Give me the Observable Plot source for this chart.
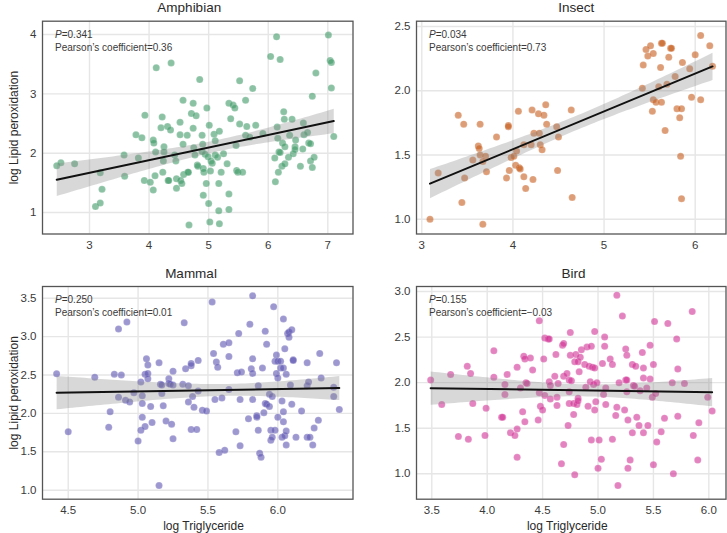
<!DOCTYPE html>
<html>
<head>
<meta charset="utf-8">
<script src="https://cdn.jsdelivr.net/npm/d3@7"></script>
<script src="https://cdn.jsdelivr.net/npm/@observablehq/plot@0.6"></script>
<style>
  body { margin: 0; background: #fff; }
  #chart { position: relative; width: 727px; height: 533px; font-family: "Liberation Sans", Arial, sans-serif; }
  #chart svg { position: absolute; overflow: visible; }
</style>
</head>
<body>
<div id="chart"></div>
<script>
// ---------- data ----------
const categories = ["Amphibian", "Insect", "Mammal", "Bird"];
const pValues = ["0.341", "0.034", "0.250", "0.155"];
const pearson = ["0.36", "0.73", "0.01", "\u22120.03"];
const xLabel = "log Triglyceride";
const yLabel = "log Lipid peroxidation";

const amphibianXTicks = [3, 4, 5, 6, 7];
const amphibianYTicks = [1, 2, 3, 4];
const insectXTicks = [3, 4, 5, 6];
const insectYTicks = [1.0, 1.5, 2.0, 2.5];
const mammalXTicks = [4.5, 5.0, 5.5, 6.0];
const mammalYTicks = [1.0, 1.5, 2.0, 2.5, 3.0, 3.5];
const birdXTicks = [3.5, 4.0, 4.5, 5.0, 5.5, 6.0];
const birdYTicks = [1.0, 1.5, 2.0, 2.5, 3.0];

// [log Triglyceride, log Lipid peroxidation]
const amphibian = [[2.45,1.79],[2.52,1.84],[2.75,1.82],[3.10,1.10],[3.18,1.16],[3.21,1.39],[3.18,1.67],[3.58,1.97],[3.59,1.61],[3.78,2.31],[3.82,1.92],[3.88,2.26],[3.93,2.64],[3.92,1.54],[4.02,1.51],[4.07,2.22],[4.08,2.17],[4.07,1.38],[4.10,1.62],[4.12,3.44],[4.37,3.52],[4.11,2.02],[4.22,2.61],[4.20,2.43],[4.25,2.11],[4.25,2.02],[4.24,1.87],[4.23,1.68],[4.31,2.45],[4.36,2.39],[4.32,1.54],[4.33,1.54],[4.43,1.97],[4.45,1.87],[4.46,1.57],[4.46,1.41],[4.52,2.52],[4.52,2.31],[4.53,1.54],[4.55,1.49],[4.57,2.89],[4.57,2.15],[4.58,1.64],[4.64,2.30],[4.65,1.68],[4.66,1.68],[4.67,0.79],[4.71,2.67],[4.74,2.84],[4.74,2.42],[4.75,2.09],[4.77,1.97],[4.79,2.63],[4.81,1.80],[4.82,1.78],[4.85,3.24],[4.89,2.30],[4.90,2.15],[4.89,2.03],[4.91,1.74],[4.92,1.68],[4.91,1.29],[4.94,1.98],[4.96,1.49],[4.97,2.76],[4.99,1.94],[5.00,1.15],[5.01,2.47],[5.03,1.70],[5.04,1.87],[5.02,0.84],[5.06,1.83],[5.09,2.32],[5.11,2.21],[5.11,1.97],[5.15,1.93],[5.17,1.49],[5.17,1.03],[5.18,2.37],[5.18,0.81],[5.21,1.68],[5.25,1.99],[5.31,1.82],[5.34,2.84],[5.34,1.31],[5.34,1.05],[5.37,2.58],[5.41,2.81],[5.44,2.76],[5.46,2.13],[5.47,1.71],[5.49,1.68],[5.52,3.22],[5.52,2.49],[5.57,1.68],[5.62,2.30],[5.62,2.89],[5.64,2.45],[5.69,2.27],[5.74,3.09],[5.79,2.47],[5.91,2.33],[6.04,3.63],[6.14,3.96],[6.20,3.58],[6.11,1.92],[6.12,1.52],[6.15,2.44],[6.16,2.25],[6.17,1.68],[6.18,2.02],[6.20,2.01],[6.23,1.78],[6.24,2.17],[6.26,2.70],[6.27,2.57],[6.28,2.11],[6.28,1.82],[6.34,1.93],[6.36,2.30],[6.40,2.57],[6.42,1.99],[6.46,2.22],[6.45,2.11],[6.45,2.06],[6.54,1.78],[6.58,2.07],[6.59,2.51],[6.60,2.31],[6.66,2.35],[6.68,2.17],[6.71,2.16],[6.71,1.87],[6.74,1.76],[6.74,2.96],[6.77,1.93],[6.80,3.35],[7.01,3.99],[7.04,3.56],[7.06,3.53],[7.06,3.10],[7.10,2.28]];

const insect = [[3.09,1.00],[3.18,1.36],[3.40,1.81],[3.44,1.13],[3.46,1.74],[3.47,1.32],[3.56,1.46],[3.62,1.57],[3.63,1.55],[3.64,1.74],[3.64,1.50],[3.67,0.96],[3.70,1.49],[3.71,1.37],[3.67,1.45],[3.82,1.64],[3.93,1.32],[3.95,1.73],[3.95,1.72],[3.96,1.38],[3.98,1.48],[4.01,1.49],[4.03,1.42],[4.04,1.53],[4.06,1.84],[4.07,1.40],[4.08,1.39],[4.12,1.33],[4.12,1.58],[4.14,1.24],[4.20,1.58],[4.21,1.85],[4.22,1.31],[4.23,1.67],[4.28,1.82],[4.29,1.67],[4.30,1.58],[4.32,1.54],[4.34,1.81],[4.36,1.89],[4.37,1.74],[4.48,1.72],[4.49,1.38],[4.50,1.64],[4.64,1.85],[4.65,1.17],[5.42,2.02],[5.43,2.20],[5.46,2.32],[5.48,2.27],[5.51,2.35],[5.53,1.84],[5.54,1.93],[5.54,2.29],[5.57,1.91],[5.62,2.18],[5.63,2.37],[5.64,2.37],[5.63,1.91],[5.60,2.03],[5.67,1.69],[5.69,2.05],[5.71,2.26],[5.73,2.33],[5.74,2.33],[5.78,2.11],[5.80,1.86],[5.83,1.79],[5.84,1.49],[5.85,1.86],[5.85,1.16],[5.86,2.22],[5.94,2.17],[5.96,1.95],[6.00,2.28],[6.06,2.43],[6.06,1.93],[6.16,2.35],[6.19,2.19]];

const mammal = [[4.417,2.515],[4.50,1.76],[4.69,2.47],[4.79,1.82],[4.80,2.02],[4.83,2.51],[4.86,3.10],[4.86,2.21],[4.88,2.50],[4.91,2.17],[4.92,3.19],[4.94,2.15],[4.97,2.27],[5.00,1.64],[5.02,1.78],[5.02,2.41],[5.03,1.95],[5.03,2.23],[5.03,2.13],[5.05,2.51],[5.05,1.83],[5.06,2.71],[5.07,2.63],[5.07,2.52],[5.07,2.45],[5.09,2.09],[5.10,1.88],[5.15,2.66],[5.15,1.06],[5.16,2.38],[5.17,2.37],[5.17,2.26],[5.18,2.10],[5.20,1.90],[5.22,2.45],[5.22,2.39],[5.23,2.38],[5.24,1.86],[5.25,2.37],[5.25,1.67],[5.25,2.55],[5.32,2.38],[5.33,3.18],[5.34,2.58],[5.36,2.36],[5.36,2.15],[5.38,2.62],[5.38,2.65],[5.38,1.79],[5.39,2.22],[5.40,2.08],[5.42,1.79],[5.43,2.29],[5.43,2.69],[5.46,2.04],[5.49,2.03],[5.53,3.45],[5.54,2.78],[5.55,2.18],[5.56,2.67],[5.57,2.60],[5.58,1.49],[5.60,2.20],[5.61,2.90],[5.62,1.52],[5.65,2.92],[5.65,2.74],[5.65,2.31],[5.70,1.76],[5.71,2.53],[5.72,3.04],[5.73,1.58],[5.73,2.18],[5.74,2.54],[5.79,1.93],[5.80,3.16],[5.81,2.58],[5.82,2.18],[5.82,3.53],[5.82,2.71],[5.82,2.52],[5.85,1.97],[5.85,1.95],[5.86,2.36],[5.86,1.78],[5.87,1.48],[5.88,1.43],[5.89,2.59],[5.90,2.01],[5.91,2.13],[5.92,2.12],[5.91,3.07],[5.92,2.90],[5.94,2.09],[5.94,2.25],[5.95,1.65],[5.95,1.78],[5.96,1.69],[5.96,2.22],[5.97,3.39],[5.98,1.78],[5.98,2.68],[5.99,2.76],[5.99,2.52],[6.00,2.46],[6.00,1.95],[6.00,2.68],[6.02,2.68],[6.02,2.59],[6.03,2.16],[6.03,1.69],[6.04,3.23],[6.04,2.59],[6.04,2.02],[6.04,1.89],[6.05,1.71],[6.05,2.84],[6.06,1.77],[6.06,1.59],[6.06,2.51],[6.07,3.04],[6.08,3.06],[6.08,2.99],[6.09,2.37],[6.10,3.09],[6.10,2.12],[6.11,2.70],[6.11,2.69],[6.13,1.69],[6.17,2.03],[6.21,2.66],[6.21,2.36],[6.21,1.69],[6.22,2.41],[6.23,1.69],[6.25,1.59],[6.26,1.81],[6.29,1.91],[6.30,2.78],[6.31,2.46],[6.40,2.34],[6.40,2.22],[6.42,2.66],[6.44,2.05]];

const bird = [[3.49,2.03],[3.59,1.76],[3.67,2.09],[3.74,1.41],[3.82,2.18],[3.83,1.38],[3.85,2.10],[3.87,1.77],[3.98,1.42],[3.99,1.72],[4.06,2.35],[4.06,2.06],[4.13,1.62],[4.14,1.62],[4.16,1.98],[4.16,1.87],[4.18,2.09],[4.21,1.45],[4.25,1.42],[4.27,1.49],[4.27,1.18],[4.27,2.17],[4.30,1.94],[4.32,1.68],[4.33,2.29],[4.34,2.26],[4.34,1.57],[4.35,2.00],[4.36,1.99],[4.39,2.27],[4.41,2.14],[4.46,1.59],[4.47,2.68],[4.47,1.89],[4.48,1.74],[4.50,1.70],[4.51,2.26],[4.52,1.86],[4.52,2.49],[4.55,2.48],[4.56,2.48],[4.56,2.01],[4.57,1.97],[4.57,1.82],[4.61,2.07],[4.62,2.31],[4.63,1.75],[4.63,1.84],[4.64,1.99],[4.67,1.11],[4.68,2.41],[4.69,2.43],[4.69,1.32],[4.69,2.07],[4.72,2.10],[4.73,1.53],[4.74,1.90],[4.74,2.03],[4.75,2.55],[4.75,2.30],[4.74,1.77],[4.76,2.02],[4.78,1.65],[4.78,1.77],[4.79,2.23],[4.79,0.99],[4.80,2.31],[4.81,1.76],[4.82,2.23],[4.82,1.83],[4.82,1.80],[4.83,2.12],[4.84,2.28],[4.85,2.36],[4.88,2.20],[4.89,1.95],[4.90,2.39],[4.91,1.74],[4.92,2.18],[4.93,2.01],[4.94,2.40],[4.94,1.37],[4.95,2.17],[4.96,1.98],[4.97,2.16],[4.97,2.56],[4.97,1.70],[4.98,1.79],[4.99,2.00],[5.00,1.06],[5.01,1.37],[5.03,1.16],[5.04,2.21],[5.05,1.87],[5.06,2.40],[5.06,2.50],[5.07,1.94],[5.07,1.76],[5.11,2.26],[5.13,1.38],[5.13,2.20],[5.16,1.64],[5.17,2.96],[5.17,1.73],[5.18,0.87],[5.19,2.00],[5.22,2.73],[5.24,1.70],[5.25,2.37],[5.25,2.03],[5.26,2.03],[5.26,2.30],[5.26,1.90],[5.27,1.06],[5.27,1.59],[5.29,1.15],[5.31,1.45],[5.31,2.20],[5.32,1.97],[5.33,1.96],[5.34,2.18],[5.35,1.62],[5.37,1.53],[5.38,1.91],[5.40,2.33],[5.41,2.16],[5.41,2.05],[5.41,1.45],[5.44,1.94],[5.45,1.53],[5.47,2.41],[5.47,2.04],[5.49,1.84],[5.50,2.20],[5.50,1.10],[5.51,2.67],[5.52,1.88],[5.53,1.35],[5.57,1.46],[5.60,1.61],[5.63,2.65],[5.67,2.00],[5.68,1.00],[5.71,2.48],[5.72,2.15],[5.72,1.63],[5.78,1.99],[5.85,2.78],[5.86,1.42],[5.90,1.15],[5.91,1.56],[5.99,1.84],[6.03,1.69]];

// ---------- layout / style ----------
const fmtInt = d3.format("d");
const fmt1 = d3.format(".1f");
const panels = [
  {data: amphibian, color: "#3f9a68", xTicks: amphibianXTicks, yTicks: amphibianYTicks, xFmt: fmtInt, yFmt: fmtInt,
   xDomain: [2.211, 7.423], yDomain: [0.638, 4.224],
   left: 0, top: 0, width: 363, height: 266, ml: 42, mr: 10.5, mt: 20.7, mb: 32.5, titleDx: -8.5, showY: true, showX: false, xLabelDx: 0},
  {data: insect, color: "#c65b1a", xTicks: insectXTicks, yTicks: insectYTicks, xFmt: fmtInt, yFmt: fmt1,
   xDomain: [2.942, 6.338], yDomain: [0.885, 2.541],
   left: 363, top: 0, width: 364, height: 266, ml: 53, mr: 1.5, mt: 20.7, mb: 32.5, titleDx: 5, showY: false, showX: false, xLabelDx: 0},
  {data: mammal, color: "#5b54b0", xTicks: mammalXTicks, yTicks: mammalYTicks, xFmt: fmt1, yFmt: fmt1,
   xDomain: [4.316, 6.538], yDomain: [0.883, 3.652],
   left: 0, top: 266, width: 363, height: 267, ml: 42, mr: 10.5, mt: 20, mb: 34.3, titleDx: -6.75, showY: true, showX: true, xLabelDx: 5.75},
  {data: bird, color: "#d03094", xTicks: birdXTicks, yTicks: birdYTicks, xFmt: fmt1, yFmt: fmt1,
   xDomain: [3.362, 6.155], yDomain: [0.721, 3.055],
   left: 363, top: 266, width: 364, height: 267, ml: 53, mr: 1.5, mt: 20, mb: 34.3, titleDx: 2.25, showY: false, showX: true, xLabelDx: -4}
];

const chart = document.getElementById("chart");
const X = d => d[0], Y = d => d[1];

panels.forEach((c, i) => {
  const marks = [
    Plot.gridX(c.xTicks, {stroke: "#e6e6e6", strokeOpacity: 1, strokeWidth: 1.4}),
    Plot.gridY(c.yTicks, {stroke: "#e6e6e6", strokeOpacity: 1, strokeWidth: 1.4}),
    Plot.axisX(c.xTicks, {tickSize: 0, tickPadding: 6.5, tickFormat: c.xFmt, label: null, fontSize: 11.5, fill: "#3a3a3a"}),
    Plot.axisY(c.yTicks, {tickSize: 0, tickPadding: 6, tickFormat: c.yFmt, label: null, fontSize: 11.5, fill: "#3a3a3a"}),
    Plot.dot(c.data, {x: X, y: Y, r: 3.5, fill: c.color, fillOpacity: 0.6, stroke: "#fff", strokeWidth: 0.3, strokeOpacity: 0.5}),
    Plot.linearRegressionY(c.data, {x: X, y: Y, stroke: "#111", strokeWidth: 2, fill: "#8a8a8a", fillOpacity: 0.33, ci: 0.95}),
    Plot.frame({stroke: "#555", strokeWidth: 1.3}),
    Plot.text([categories[i]], {frameAnchor: "top", dx: c.titleDx, dy: -9, lineAnchor: "bottom", fontSize: 13.5, fontWeight: "normal", fill: "#2a2a2a"}),
    Plot.text(["P"], {frameAnchor: "top-left", dx: 12.5, dy: 16.3, lineAnchor: "bottom", textAnchor: "start", fontSize: 10, fontStyle: "italic", fill: "#3a3a3a"}),
    Plot.text(["=" + pValues[i]], {frameAnchor: "top-left", dx: 19.2, dy: 16.3, lineAnchor: "bottom", textAnchor: "start", fontSize: 10, fill: "#3a3a3a"}),
    Plot.text(["Pearson\u2019s coefficient=" + pearson[i]], {frameAnchor: "top-left", dx: 12.5, dy: 29.3, lineAnchor: "bottom", textAnchor: "start", fontSize: 10, fill: "#3a3a3a"})
  ];
  if (c.showY) marks.push(Plot.text([yLabel], {frameAnchor: "left", dx: -24.5, rotate: -90, lineAnchor: "bottom", textAnchor: "middle", fontSize: 12, fill: "#2a2a2a"}));
  if (c.showX) marks.push(Plot.text([xLabel], {frameAnchor: "bottom", dx: c.xLabelDx, dy: 30.3, lineAnchor: "bottom", textAnchor: "middle", fontSize: 12, fill: "#2a2a2a"}));

  const svg = Plot.plot({
    width: c.width,
    height: c.height,
    marginLeft: c.ml, marginRight: c.mr, marginTop: c.mt, marginBottom: c.mb,
    x: {domain: c.xDomain, axis: null},
    y: {domain: c.yDomain, axis: null},
    style: {fontFamily: "\"Liberation Sans\", Arial, sans-serif", fontSize: "11.5px", color: "#333", background: "transparent"},
    marks
  });
  svg.style.left = c.left + "px";
  svg.style.top = c.top + "px";
  chart.appendChild(svg);
});
</script>
</body>
</html>
